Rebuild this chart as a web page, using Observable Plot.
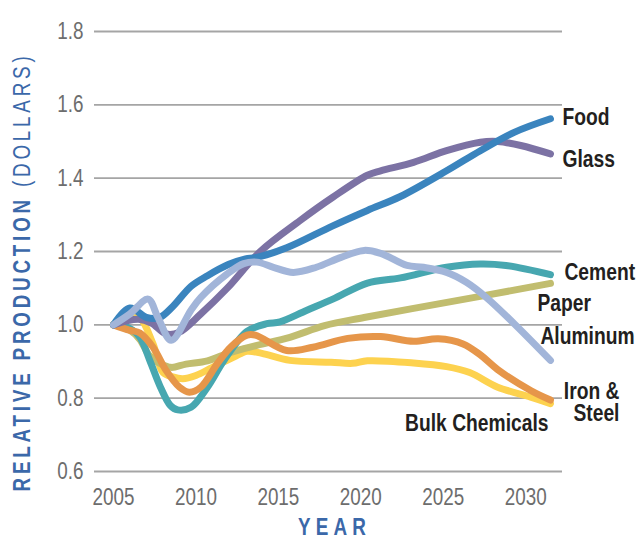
<!DOCTYPE html>
<html>
<head>
<meta charset="utf-8">
<script src="https://cdn.jsdelivr.net/npm/d3@7"></script>
<script src="https://cdn.jsdelivr.net/npm/@observablehq/plot@0.6"></script>
<style>
  html, body { margin: 0; padding: 0; background: #fff; }
  #chart { width: 637px; height: 538px; }
</style>
</head>
<body>
<div id="chart"></div>
<script>
// ---- data (year, relative production) ----
const food = [[2005,1.0],[2006.0,1.046],[2007.0,1.02],[2007.8,1.02],[2008.6,1.05],[2009.7,1.105],[2010.7,1.134],[2012.0,1.165],[2013.0,1.18],[2013.6,1.183],[2015.5,1.21],[2018.3,1.27],[2020.4,1.312],[2022.4,1.35],[2025.2,1.42],[2027.25,1.475],[2029.3,1.525],[2031.5,1.562]];
const glass = [[2005,1.0],[2006.5,1.015],[2007.3,1.005],[2008.2,0.975],[2009.0,0.98],[2010.3,1.03],[2011.9,1.10],[2013.9,1.2],[2016.3,1.284],[2018.3,1.348],[2020.4,1.408],[2021.2,1.42],[2023.2,1.443],[2025.2,1.475],[2027.25,1.498],[2028.3,1.50],[2029.7,1.489],[2031.5,1.466]];
const aluminum = [[2005,1.0],[2006.0,1.03],[2007.1,1.07],[2007.7,1.02],[2008.5,0.958],[2009.7,1.04],[2010.3,1.075],[2011.9,1.139],[2012.9,1.167],[2013.7,1.171],[2014.7,1.157],[2015.9,1.143],[2017.3,1.157],[2018.8,1.184],[2020.2,1.203],[2021.2,1.195],[2022.8,1.162],[2023.8,1.157],[2025.2,1.143],[2026.4,1.116],[2027.6,1.075],[2029.3,1.003],[2031.5,0.903]];
const cement = [[2005,1.0],[2006.0,0.99],[2006.6,0.966],[2007.2,0.903],[2007.85,0.83],[2008.45,0.78],[2008.9,0.768],[2009.7,0.775],[2010.7,0.83],[2011.7,0.903],[2013.1,0.982],[2014.3,1.003],[2015.1,1.008],[2016.7,1.039],[2018.3,1.07],[2020.4,1.114],[2022.4,1.128],[2025.2,1.157],[2027.25,1.166],[2028.8,1.162],[2031.5,1.137]];
const paper = [[2005,1.0],[2006.0,0.985],[2006.6,0.96],[2007.2,0.915],[2007.9,0.893],[2008.5,0.884],[2009.4,0.893],[2010.7,0.902],[2012.1,0.925],[2013.7,0.944],[2015.7,0.966],[2017.8,0.998],[2020.2,1.02],[2023.2,1.045],[2026.9,1.075],[2031.5,1.113]];
const ironSteel = [[2005,1.0],[2006.0,0.985],[2006.6,0.978],[2007.4,0.939],[2008.2,0.875],[2009.0,0.83],[2009.6,0.816],[2010.3,0.83],[2011.3,0.894],[2012.1,0.939],[2013.1,0.972],[2013.6,0.972],[2015.5,0.93],[2017.1,0.939],[2019.2,0.963],[2021.2,0.968],[2023.2,0.955],[2024.7,0.962],[2026.2,0.948],[2027.25,0.918],[2028.3,0.878],[2030.3,0.821],[2031.5,0.795]];
const bulkChemicals = [[2005,1.0],[2006.0,1.027],[2006.6,1.02],[2007.4,0.948],[2008.0,0.87],[2008.6,0.858],[2009.2,0.853],[2010.0,0.862],[2011.0,0.884],[2012.3,0.912],[2013.1,0.928],[2014.0,0.922],[2015.7,0.903],[2018.2,0.898],[2019.5,0.895],[2020.4,0.902],[2023.2,0.896],[2025.2,0.886],[2026.6,0.87],[2028.3,0.83],[2030.3,0.803],[2031.5,0.785]];

const seriesNames = ["Bulk Chemicals","Paper","Cement","Iron & Steel","Glass","Food","Aluminum"];
const seriesData  = [bulkChemicals, paper, cement, ironSteel, glass, food, aluminum];
const seriesColors = ["#fdd24f","#c1bd6f","#47a7b0","#e6964a","#7c72a4","#3a84be","#a2b5d9"];

const xTicks = [2005, 2010, 2015, 2020, 2025, 2030];
const yTicks = [0.6, 0.8, 1.0, 1.2, 1.4, 1.6, 1.8];

const labelTexts = {"Food":"Food","Glass":"Glass","Cement":"Cement","Paper":"Paper","Aluminum":"Aluminum","Iron & Steel":"Iron &\nSteel","Bulk Chemicals":"Bulk Chemicals"};
// label placement relative to the series end point (style/position only)
const labelPlace = {
  "Food":          {dx: 12, dy: -1, anchor: "start"},
  "Glass":         {dx: 12, dy: 6, anchor: "start"},
  "Cement":        {dx: 14, dy: -2, anchor: "start"},
  "Paper":         {dx: -13, dy: 20, anchor: "start"},
  "Aluminum":      {dx: -10, dy: -24, anchor: "start"},
  "Iron & Steel":  {dx: 69, dy: 3, anchor: "end"},
  "Bulk Chemicals":{dx: -2, dy: 20, anchor: "end"}
};

const FONT = "'Liberation Sans', Arial, sans-serif";
const SQUEEZE = 0.82; // horizontal condensing of all text

const rows = seriesNames.flatMap((name, i) => seriesData[i].map(([year, value]) => ({name, year, value})));
const ends = seriesNames.map((name, i) => {
  const p = seriesData[i][seriesData[i].length - 1];
  return {name, year: p[0], value: p[1], text: labelTexts[name]};
});

const labelMarks = ends.map(e => Plot.text([e], {
  x: "year", y: "value", text: "text",
  dx: labelPlace[e.name].dx, dy: labelPlace[e.name].dy,
  textAnchor: labelPlace[e.name].anchor,
  fontSize: 23.5, fontWeight: "bold", fill: "#231f20", lineHeight: 0.95
}));

const chart = Plot.plot({
  width: 637,
  height: 538,
  marginLeft: 94,
  marginRight: 75,
  marginTop: 31,
  marginBottom: 67,
  x: {domain: [2003.85, 2032.23]},
  y: {domain: [0.6, 1.8]},
  color: {domain: seriesNames, range: seriesColors},
  style: {fontFamily: FONT, background: "#fff", overflow: "visible"},
  marks: [
    Plot.gridY(yTicks, {stroke: "#a5a5a5", strokeOpacity: 1, strokeWidth: 1.8}),
    Plot.axisY(yTicks, {tickSize: 0, tickPadding: 11, tickFormat: d => d.toFixed(1), fontSize: 23, label: null}),
    Plot.axisX(xTicks, {tickSize: 0, tickPadding: 17, tickFormat: d => String(d), fontSize: 23, label: null}),
    Plot.line(rows, {x: "year", y: "value", z: "name", stroke: "name", strokeWidth: 7,
      curve: "catmull-rom", strokeLinecap: "round", strokeLinejoin: "round"}),
    ...labelMarks
  ]
});

document.getElementById("chart").appendChild(chart);
const svg = d3.select(chart);
svg.selectAll("[aria-label='y-axis tick label'], [aria-label='x-axis tick label']").attr("fill", "#6d6d6d");
svg.selectAll("[aria-label='y-axis tick label'] text, [aria-label='x-axis tick label'] text").attr("fill", "#6d6d6d");

// y axis title
const yt = svg.append("text")
  .attr("transform", "translate(30,272) rotate(-90)")
  .attr("text-anchor", "middle")
  .attr("fill", "#3b68a9")
  .attr("font-family", FONT)
  .attr("font-size", 23)
  .attr("letter-spacing", "4.6px");
yt.append("tspan").attr("font-weight", "bold").text("RELATIVE PRODUCTION ");
yt.append("tspan").attr("font-weight", "normal").text("(DOLLARS)");

// x axis title
svg.append("text")
  .attr("x", 298).attr("y", 535)
  .attr("text-anchor", "start")
  .attr("fill", "#3b68a9")
  .attr("font-family", FONT)
  .attr("font-size", 23)
  .attr("font-weight", "bold")
  .attr("letter-spacing", "6.3px")
  .text("YEAR");

// condense every text horizontally about its anchor point
svg.selectAll("text").each(function() {
  const el = this;
  const bb = el.getBBox();
  const anchor = getComputedStyle(el).textAnchor;
  let ax = bb.x;
  if (anchor === "end") ax = bb.x + bb.width;
  else if (anchor === "middle") ax = bb.x + bb.width / 2;
  const t = el.getAttribute("transform") || "";
  el.setAttribute("transform", `${t} translate(${ax},0) scale(${SQUEEZE},1) translate(${-ax},0)`.trim());
});
</script>
</body>
</html>
